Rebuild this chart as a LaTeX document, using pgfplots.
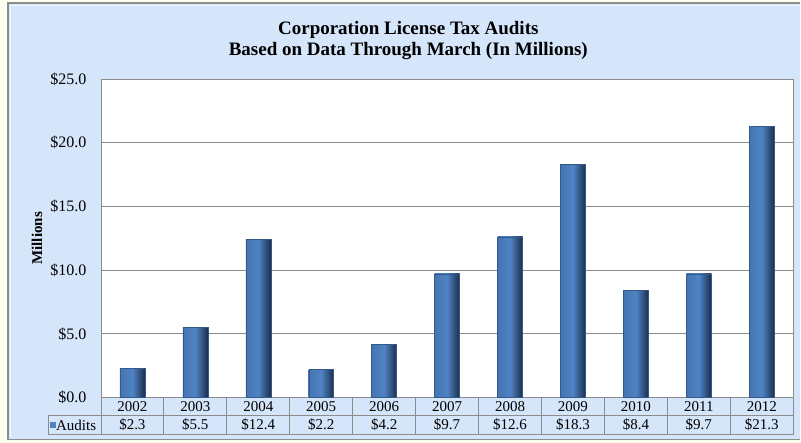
\documentclass[border=0pt]{standalone}
\usepackage{fontspec}
\setmainfont{Liberation Serif}
\usepackage{pgfplots}
\pgfplotsset{compat=1.18}
\definecolor{cream}{HTML}{FFFFF0}
\definecolor{chartbg}{HTML}{D5E5FA}
\definecolor{frame}{HTML}{8C8C8C}
\definecolor{barmain}{HTML}{4F83C4}
\definecolor{barlight}{HTML}{4575B2}
\definecolor{bardark}{HTML}{1A2E4C}
\definecolor{gridc}{HTML}{8A8A8A}
\pgfplotsset{mybar/.style={ybar, bar shift=0pt, bar width=25bp, draw=bardark!50!barmain, line width=0.4bp,
  left color=barlight, right color=bardark, middle color=barmain}}
\begin{document}
\begin{tikzpicture}[x=1bp,y=1bp]
% background
\fill[cream] (0,0) rectangle (801,443);
\fill[chartbg] (8,3) rectangle (801,440);
\draw[frame,line width=1.5bp] (801,440) -- (8,440) -- (8,3) -- (801,3);
\draw[white!70!chartbg,line width=1bp] (801,437.5) -- (10.5,437.5) -- (10.5,5.5);
\begin{axis}[
  at={(101bp,45bp)}, anchor=south west,
  scale only axis, width=693bp, height=319bp,
  xmin=-0.5, xmax=10.5, ymin=0, ymax=25,
  axis background/.style={fill=white},
  axis line style={draw=frame, line width=0.8bp},
  xtick={0,1,...,10},
  xticklabels={2002,2003,2004,2005,2006,2007,2008,2009,2010,2011,2012},
  xticklabel style={anchor=center, yshift=-9bp, font=\fontsize{15bp}{17bp}\selectfont},
  ytick={0,5,...,25},
  yticklabel={\$\pgfmathprintnumber[fixed,fixed zerofill,precision=1]{\tick}},
  yticklabel style={anchor=east, xshift=-11bp, font=\fontsize{16bp}{18bp}\selectfont},
  /pgf/number format/assume math mode=true,
  major tick length=0pt,
  ymajorgrids, grid style={draw=gridc, line width=0.8bp},
  ylabel={Millions},
  every axis y label/.style={at={(axis description cs:-0.0924,0.5)}, rotate=90, anchor=center, font=\bfseries\fontsize{15bp}{17bp}\selectfont},
  title={Corporation License Tax Audits\\Based on Data Through March (In Millions)},
  title style={at={(axis description cs:0.444,1.13)}, yshift=-9bp, anchor=center, align=center, font=\bfseries\fontsize{19bp}{21bp}\selectfont},
]
\addplot[mybar] coordinates {(0,2.3)};
\addplot[mybar] coordinates {(1,5.5)};
\addplot[mybar] coordinates {(2,12.4)};
\addplot[mybar] coordinates {(3,2.2)};
\addplot[mybar] coordinates {(4,4.2)};
\addplot[mybar] coordinates {(5,9.7)};
\addplot[mybar] coordinates {(6,12.6)};
\addplot[mybar] coordinates {(7,18.3)};
\addplot[mybar] coordinates {(8,8.4)};
\addplot[mybar] coordinates {(9,9.7)};
\addplot[mybar] coordinates {(10,21.3)};
\end{axis}
% data table
\draw[frame,line width=0.8bp] (48,27) -- (794,27);
\draw[frame,line width=0.8bp] (48,8) -- (794,8);
\draw[frame,line width=0.8bp] (48,27) -- (48,8);
\foreach \k in {0,...,11} {
  \draw[frame,line width=0.8bp] ({101+63*\k},45) -- ({101+63*\k},8);
}
\fill[barmain] (50,14.5) rectangle (56,20.5);
\node[anchor=west, inner sep=0pt, font=\fontsize{15bp}{17bp}\selectfont] at (56,17.5) {Audits};
\foreach \v [count=\i from 0] in {2.3,5.5,12.4,2.2,4.2,9.7,12.6,18.3,8.4,9.7,21.3} {
  \node[font=\fontsize{15bp}{17bp}\selectfont, inner sep=0pt] at ({101+63*(\i+0.5)},17.5) {\$\v};
}
\end{tikzpicture}
\end{document}
